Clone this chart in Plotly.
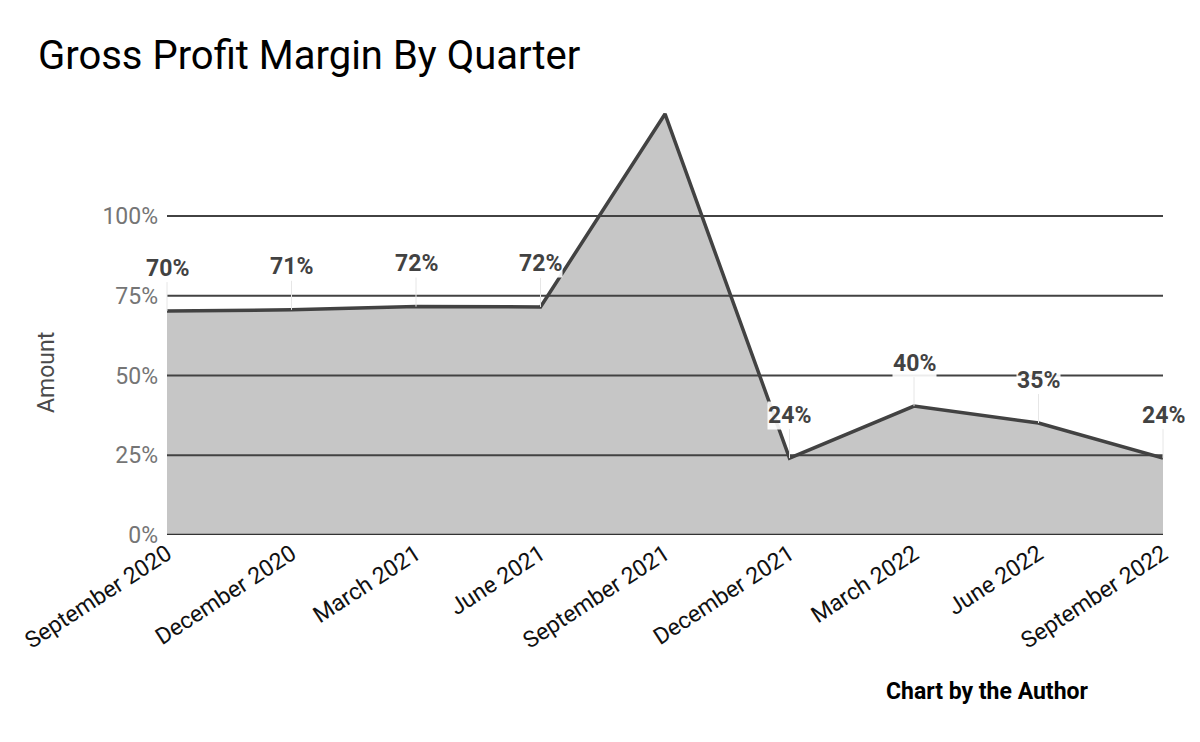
import plotly.graph_objects as go

quarters = ["September 2020", "December 2020", "March 2021", "June 2021",
            "September 2021", "December 2021", "March 2022", "June 2022",
            "September 2022"]
margin_pct = [70.2, 70.6, 71.6, 71.5, 132.0, 24.1, 40.4, 35.1, 24.1]
label_text = ["70%", "71%", "72%", "72%", "132%", "24%", "40%", "35%", "24%"]
y_ticks = [0, 25, 50, 75, 100]
y_tick_text = ["0%", "25%", "50%", "75%", "100%"]
y_max = 132.3

W, H = 1200, 742
L, R, T, B = 167, 37, 113, 207
pw, ph = W - L - R, H - T - B

fig = go.Figure()
fig.add_trace(go.Scatter(
    x=quarters, y=margin_pct, mode="lines", fill="tozeroy",
    fillcolor="#c6c6c6", line=dict(color="#424242", width=3.5),
    hoverinfo="skip", showlegend=False))

# gridlines drawn above the area fill, as in the reference
for v in y_ticks:
    fig.add_shape(type="line", xref="paper", yref="y", x0=0, x1=1, y0=v, y1=v,
                  line=dict(color="#424242" if v else "#333333", width=2 if v else 2.5),
                  layer="above")

for q, v, t in zip(quarters, margin_pct, label_text):
    if v > y_max - 5:
        continue
    fig.add_annotation(
        x=q, y=v, xref="x", yref="y", text="<b>" + t + "</b>",
        showarrow=True, arrowhead=0, arrowwidth=1, arrowcolor="#e6e6e6",
        ax=0, ay=-43, bgcolor="rgba(255,255,255,0.9)", borderpad=0,
        font=dict(family="Roboto", size=23, color="#424242"))

fig.add_annotation(
    x=(1090 - L) / pw, y=-(691 - (H - B)) / ph, xref="paper", yref="paper",
    text="<b>Chart by the Author</b>", showarrow=False,
    font=dict(family="Roboto", size=23, color="#000000"),
    xanchor="right", yanchor="middle")

fig.add_annotation(
    x=(47 - L) / pw, y=((H - B) - 373) / ph, xref="paper", yref="paper",
    text="Amount", textangle=-90, showarrow=False,
    font=dict(family="Roboto", size=23, color="#4a4a4a"),
    xanchor="center", yanchor="middle")

fig.update_layout(
    width=W, height=H,
    margin=dict(l=L, r=R, t=T, b=B),
    paper_bgcolor="white", plot_bgcolor="white",
    font=dict(family="Roboto"),
    title=dict(text="Gross Profit Margin By Quarter", x=38 / W, xanchor="left",
               y=1 - 55 / H, yanchor="middle",
               font=dict(family="Roboto", size=40, color="#000000")),
    xaxis=dict(type="category", range=[0, len(quarters) - 1], showgrid=False,
               tickangle=-33, ticks="", showline=False, zeroline=False,
               tickfont=dict(family="Roboto", size=23, color="#111111")),
    yaxis=dict(range=[0, y_max], tickvals=y_ticks, ticktext=y_tick_text,
               showgrid=False, zeroline=False, ticklabelstandoff=8,
               tickfont=dict(family="Roboto", size=23, color="#757575")),
)

fig.write_html("out.html")
